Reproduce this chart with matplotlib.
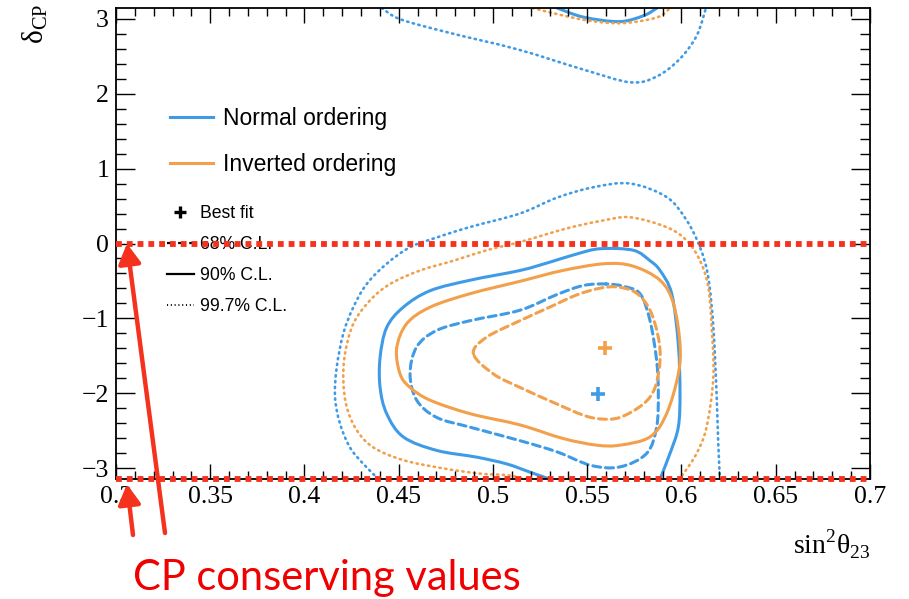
import numpy as np
import matplotlib.pyplot as plt
from matplotlib.lines import Line2D
from matplotlib.path import Path
from matplotlib.patches import PathPatch

plt.rcParams['mathtext.fontset'] = 'custom'
plt.rcParams['mathtext.rm'] = 'Liberation Serif'

blue = '#3f9be6'
orange = '#f2a04b'
red = '#f5321e'

# allowed contours (sin^2 theta23, delta_CP)
# normal ordering, 68% C.L.
no68_x = [0.560, 0.548, 0.534, 0.5143, 0.4878, 0.4701, 0.4595, 0.456, 0.4595, 0.4701, 0.4878,
          0.5143, 0.534, 0.552, 0.5674, 0.5815, 0.5868, 0.5877, 0.5868, 0.5833, 0.578, 0.569,
          0.560]
no68_y = [-0.54, -0.56, -0.68, -0.89, -1.03, -1.16, -1.38, -1.74, -2.09, -2.32, -2.45,
          -2.63, -2.78, -2.96, -2.98, -2.80, -2.45, -2.00, -1.56, -1.03, -0.67, -0.57,
          -0.54]
# normal ordering, 90% C.L. (wraps round delta_CP = +-pi)
no90_x = [0.530, 0.5196, 0.5072, 0.4913, 0.4701, 0.4524, 0.4436, 0.4401, 0.4401, 0.4436, 0.4524,
          0.4666, 0.4878, 0.5143, 0.5300, 0.5444, 0.5568, 0.5744, 0.5833, 0.5886, 0.5948, 0.5983,
          0.5992, 0.5983, 0.5939, 0.5886]
no90_y = [-3.142, -3.05, -2.94, -2.85, -2.76, -2.58, -2.27, -1.92, -1.52, -1.12, -0.85,
          -0.63, -0.49, -0.36, -0.25, -0.14, -0.07, -0.09, -0.23, -0.36, -0.67, -1.34,
          -2.00, -2.45, -2.80, -3.142]
no90_top_x = [0.534, 0.548, 0.567, 0.580, 0.587]
no90_top_y = [3.142, 3.02, 2.96, 3.04, 3.142]
# normal ordering, 99.7% C.L.
no997_x = [0.4392, 0.4312, 0.4241, 0.4188, 0.4162, 0.4171, 0.4206, 0.4259, 0.4330, 0.4436,
           0.4560, 0.4701, 0.4878, 0.5143, 0.5338, 0.5532, 0.5727, 0.5921, 0.6027, 0.6098,
           0.6142, 0.6169, 0.6186, 0.6195, 0.6204]
no997_y = [-3.142, -2.94, -2.72, -2.40, -2.05, -1.65, -1.20, -0.85, -0.54, -0.27,
           -0.05, 0.08, 0.22, 0.40, 0.61, 0.75, 0.80, 0.62, 0.31, -0.05,
           -0.45, -1.12, -2.00, -2.67, -3.142]
no997_top_x = [0.441, 0.451, 0.477, 0.513, 0.548, 0.573, 0.587, 0.599, 0.608, 0.613]
no997_top_y = [3.142, 2.99, 2.81, 2.59, 2.32, 2.15, 2.23, 2.46, 2.77, 3.142]

# inverted ordering, 68% C.L.
io68_x = [0.4896, 0.4966, 0.5143, 0.5300, 0.5440, 0.5560, 0.5660, 0.5760, 0.5833, 0.5877,
          0.5886, 0.586, 0.5798, 0.5674, 0.5568, 0.5479, 0.5338, 0.5143, 0.5002, 0.4896]
io68_y = [-1.47, -1.25, -1.03, -0.85, -0.69, -0.60, -0.58, -0.66, -0.89, -1.25,
          -1.56, -1.92, -2.14, -2.32, -2.34, -2.29, -2.14, -1.92, -1.74, -1.47]
# inverted ordering, 90% C.L.
io90_x = [0.4489, 0.4542, 0.4666, 0.4878, 0.5150, 0.537, 0.559, 0.574, 0.5886, 0.5957, 0.5992,
          0.5983, 0.5921, 0.5833, 0.5674, 0.5550, 0.537, 0.5143, 0.4878, 0.4666, 0.4560, 0.4507,
          0.4489]
io90_y = [-1.40, -1.07, -0.85, -0.67, -0.50, -0.36, -0.27, -0.30, -0.49, -0.80, -1.34,
          -1.74, -2.27, -2.58, -2.69, -2.69, -2.60, -2.42, -2.27, -2.09, -1.92, -1.74,
          -1.40]
# inverted ordering, 99.7% C.L.
io997_x = [0.518, 0.5072, 0.4931, 0.4737, 0.4524, 0.4365, 0.4277, 0.4224, 0.4206, 0.4215,
           0.4259, 0.4347, 0.4454, 0.4613, 0.479, 0.4966, 0.5143, 0.539, 0.557, 0.5727,
           0.5921, 0.6027, 0.6098, 0.6142, 0.6160, 0.6169, 0.6133, 0.6080, 0.6010, 0.598]
io997_y = [-3.142, -3.09, -3.07, -3.00, -2.89, -2.72, -2.49, -2.18, -1.83, -1.47,
           -1.07, -0.76, -0.54, -0.36, -0.23, -0.09, 0.02, 0.20, 0.30, 0.35,
           0.218, 0.04, -0.227, -0.58, -1.115, -1.78, -2.45, -2.80, -3.07, -3.142]
io997_top_x = [0.521, 0.534, 0.5515, 0.569, 0.587, 0.594]
io997_top_y = [3.142, 3.06, 2.97, 2.94, 3.016, 3.142]

# best fit points
bf_no = (0.5559, -2.01)
bf_io = (0.5594, -1.39)

# CP conserving values of delta_CP
cp_values = [0.0, -np.pi]
xlim = (0.3, 0.7)

dash = (0, (2.6, 1.6))
dot = (0, (0.5, 1.7))


# smooth curve through the read points (Catmull-Rom as cubic Bezier path)
def smooth_path(xs, ys):
    p = np.column_stack([xs, ys])
    closed = np.allclose(p[0], p[-1])
    if closed:
        q = np.vstack([p[-2], p, p[1]])
    else:
        q = np.vstack([p[0], p, p[-1]])
    verts = [q[1]]
    codes = [Path.MOVETO]
    for i in range(1, len(q) - 2):
        c1 = q[i] + (q[i+1] - q[i-1]) / 6
        c2 = q[i+1] - (q[i+2] - q[i]) / 6
        verts += [c1, c2, q[i+1]]
        codes += [Path.CURVE4] * 3
    return Path(verts, codes)


fig = plt.figure(figsize=(9.09, 5.99), dpi=100)
ax = fig.add_axes([116/909, 1-479/599, 754/909, 471/599])

for xs, ys, c, ls, lw in [
        (no68_x, no68_y, blue, dash, 2.2),
        (no90_x, no90_y, blue, '-', 2.2),
        (no90_top_x, no90_top_y, blue, '-', 2.2),
        (no997_x, no997_y, blue, dot, 1.9),
        (no997_top_x, no997_top_y, blue, dot, 1.9),
        (io68_x, io68_y, orange, dash, 2.2),
        (io90_x, io90_y, orange, '-', 2.2),
        (io997_x, io997_y, orange, dot, 1.9),
        (io997_top_x, io997_top_y, orange, dot, 1.9)]:
    patch = PathPatch(smooth_path(xs, ys), fill=False, edgecolor=c, lw=lw, ls=ls,
                      capstyle='round')
    ax.add_patch(patch)

ax.plot(*bf_no, marker='+', ms=10, mew=2.6, color=blue)
ax.plot(*bf_io, marker='+', ms=10, mew=2.6, color=orange)

for v in cp_values:
    ax.plot(xlim, [v, v], color=red, lw=4.2, ls=(0, (1, 0.85)), dash_capstyle='butt',
            zorder=6, clip_on=False)

ax.set_xlim(*xlim)
ax.set_ylim(-np.pi, np.pi)
ax.set_xticks(np.arange(0.3, 0.701, 0.05))
ax.set_xticks(np.arange(0.3, 0.701, 0.01), minor=True)
ax.set_yticks([-3, -2, -1, 0, 1, 2, 3])
ax.set_yticks(np.arange(-3, 3.01, 0.2), minor=True)
ax.set_xticklabels(['0.3', '0.35', '0.4', '0.45', '0.5', '0.55', '0.6', '0.65', '0.7'])
ax.tick_params(direction='in', top=True, right=True, which='both', width=1.0,
               labelsize=18.5, pad=5)
ax.tick_params(axis='x', which='major', length=11)
ax.tick_params(axis='x', which='minor', length=5.5)
ax.tick_params(axis='y', which='major', length=14)
ax.tick_params(axis='y', which='minor', length=7)
for lab in ax.get_xticklabels() + ax.get_yticklabels():
    lab.set_family('Liberation Serif')
for s in ax.spines.values():
    s.set_linewidth(1.3)

ax.set_xlabel(r'$\mathrm{sin}^{2}\mathrm{θ}_{23}$', fontsize=20, loc='right')
ax.xaxis.set_label_coords(1.0, -0.104)
ax.set_ylabel(r'$\mathrm{δ}_{\mathrm{CP}}$', fontsize=21, loc='top')
ax.yaxis.set_label_coords(-0.087, 1.008)

h1 = [Line2D([], [], color=blue, lw=2.2), Line2D([], [], color=orange, lw=2.2)]
leg1 = ax.legend(h1, ['Normal ordering', 'Inverted ordering'], loc='upper left',
                 bbox_to_anchor=(0.0716, 0.789), frameon=False, borderpad=0, borderaxespad=0,
                 handlelength=1.88, handletextpad=0.44, labelspacing=0.98,
                 prop={'family': 'Liberation Sans', 'size': 16.5})
ax.add_artist(leg1)
h2 = [Line2D([], [], color='black', marker='+', ms=8, mew=2.4, ls='none'),
      Line2D([], [], color='black', lw=1.6, ls=(0, (3, 2))),
      Line2D([], [], color='black', lw=1.6),
      Line2D([], [], color='black', lw=1.3, ls=(0, (0.6, 1.5)))]
ax.legend(h2, ['Best fit', '68% C.L.', '90% C.L.', '99.7% C.L.'], loc='upper left',
          bbox_to_anchor=(0.0676, 0.5815), frameon=False, borderpad=0, borderaxespad=0,
          handlelength=1.53, handletextpad=0.34, labelspacing=0.8,
          prop={'family': 'Liberation Sans', 'size': 12.7})

arrow = dict(arrowstyle='-|>,head_length=0.8,head_width=0.45', lw=3.2, color=red,
             mutation_scale=15, shrinkA=0, shrinkB=0)
ax.annotate('', xy=(0.3058, 0.0), xycoords='data', xytext=(165/909, 1-533/599),
            textcoords='figure fraction', arrowprops=arrow, annotation_clip=False, zorder=7)
ax.annotate('', xy=(0.3058, -3.21), xycoords='data', xytext=(133/909, 1-535/599),
            textcoords='figure fraction', arrowprops=arrow, annotation_clip=False, zorder=7)
fig.text(133/909, 1-590/599, 'CP conserving values', color='#f00000', fontsize=30,
         family='Lato', va='baseline', ha='left')

fig.savefig('out.png', dpi=100)
